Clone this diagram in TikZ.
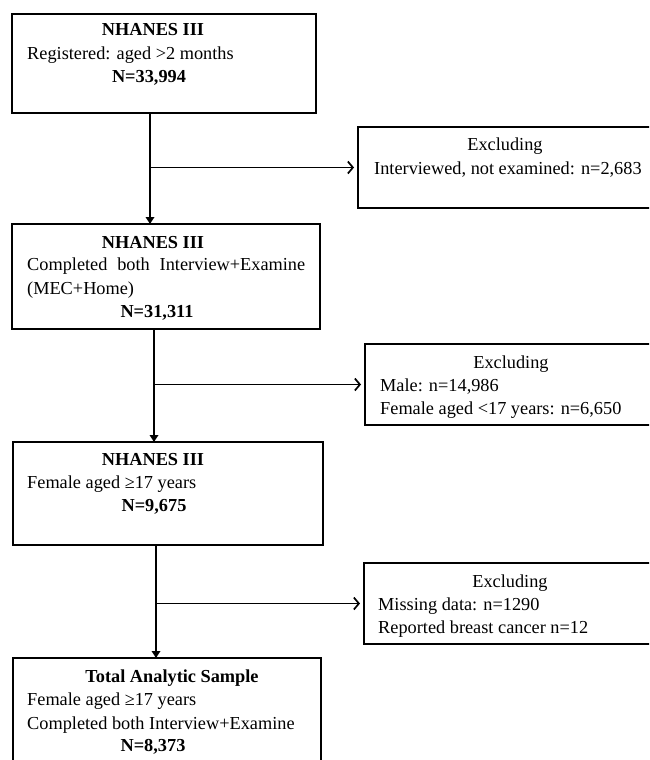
\documentclass[tikz,border=0pt]{standalone}
\usepackage{fontspec}
\setmainfont{Liberation Serif}
\usetikzlibrary{arrows.meta}
\begin{document}
\begin{tikzpicture}[x=1pt,y=-1pt,
  box/.style={draw,line width=1.8pt,rectangle,anchor=north west,inner sep=0pt,outer sep=0pt},
  txt/.style={inner sep=0pt,font=\fontsize{18.3}{22}\selectfont},
  lt/.style={txt,anchor=mid west},
  ct/.style={txt,anchor=mid},
  vline/.style={line width=1.7pt,-{Triangle[length=7pt,width=8.5pt]}},
  hline/.style={line width=1.7pt,-{Straight Barb[length=5pt,width=12pt,line width=1.7pt]},shorten >=4pt}]
\clip (0,0) rectangle (649,760);
\fill[white] (0,0) rectangle (649,760);
% boxes
\node[box,minimum width=304pt,minimum height=99pt] (b1) at (12,14) {};
\node[box,minimum width=308pt,minimum height=105pt] (b2) at (12,224) {};
\node[box,minimum width=310pt,minimum height=103pt] (b3) at (13,442) {};
\node[box,minimum width=308pt,minimum height=130pt] (b4) at (13,658) {};
\node[box,minimum width=310pt,minimum height=81pt] (e1) at (358,127) {};
\node[box,minimum width=305pt,minimum height=81pt] (e2) at (365,344) {};
\node[box,minimum width=305pt,minimum height=81pt] (e3) at (364,563) {};
% texts box 1
\node[ct] (t11) at (153,33) {\textbf{NHANES III}};
\node[lt] (t12) at (27,57) {Registered: aged >2 months};
\node[ct] (t13) at (149,80) {\textbf{N=33,994}};
% texts excl 1
\node[ct] (t21) at (505,148) {Excluding};
\node[lt] (t22) at (374,172) {Interviewed, not examined: n=2,683};
% texts box 2
\node[ct] (t31) at (153,246) {\textbf{NHANES III}};
\node[lt] (t32) at (27,268) {\makebox[278pt][s]{Completed both Interview+Examine}};
\node[lt] (t33) at (27,292) {(MEC+Home)};
\node[ct] (t34) at (157,315) {\textbf{N=31,311}};
% excl 2
\node[ct] (t41) at (511,366) {Excluding};
\node[lt] (t42) at (380,389) {Male: n=14,986};
\node[lt] (t43) at (380,412) {Female aged <17 years: n=6,650};
% box 3
\node[ct] (t51) at (153,463) {\textbf{NHANES III}};
\node[lt] (t52) at (27,486) {Female aged ≥17 years};
\node[ct] (t53) at (154,509) {\textbf{N=9,675}};
% excl 3
\node[ct] (t61) at (510,585) {Excluding};
\node[lt] (t62) at (378,608) {Missing data: n=1290};
\node[lt] (t63) at (378,631) {Reported breast cancer n=12};
% box 4
\node[ct] (t71) at (172,680) {\textbf{Total Analytic Sample}};
\node[lt] (t72) at (27,703) {Female aged ≥17 years};
\node[lt] (t73) at (27,727) {Completed both Interview+Examine};
\node[ct] (t74) at (153,749) {\textbf{N=8,373}};
% connectors
\coordinate (v1) at (150,0);
\coordinate (v2) at (154,0);
\coordinate (v3) at (156,0);
\draw[vline] (v1 |- b1.south) -- (v1 |- b2.north);
\draw[vline] (v2 |- b2.south) -- (v2 |- b3.north);
\draw[vline] (v3 |- b3.south) -- (v3 |- b4.north);
\draw[hline] (v1 |- e1.west) -- (e1.west);
\draw[hline] (v2 |- e2.west) -- (e2.west);
\draw[hline] (v3 |- e3.west) -- (e3.west);
\end{tikzpicture}
\end{document}
